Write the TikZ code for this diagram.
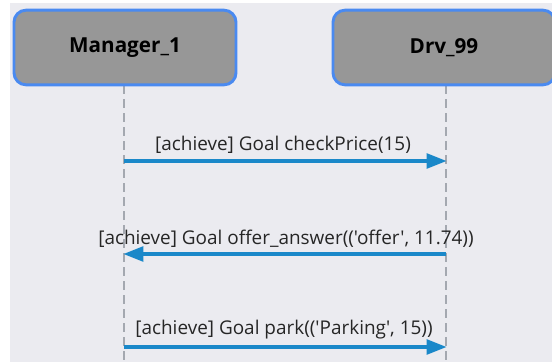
\documentclass[tikz,border=0pt]{standalone}
\usepackage{fontspec}
\setmainfont{Open Sans}[Ligatures=TeXOff]
\usetikzlibrary{arrows.meta}
\definecolor{bgc}{HTML}{EBEBF0}
\definecolor{boxfill}{HTML}{979797}
\definecolor{boxline}{HTML}{4A8AF0}
\definecolor{msgc}{HTML}{1A88C9}
\definecolor{lifec}{HTML}{A4A8B0}
\tikzset{
  px/.style={x=0.75pt,y=-0.75pt},
  actor/.style={draw=boxline, line width=2.2pt, fill=boxfill, rounded corners=9pt,
    minimum width=166.5pt, minimum height=56pt, font=\bfseries\fontsize{15.5}{18}\selectfont, inner sep=0pt},
  lifeline/.style={draw=lifec, line width=1.6pt, dash pattern=on 6.75pt off 3.75pt},
  msg/.style={draw=msgc, line width=2.6pt, -{Triangle[length=15pt,width=11pt]}, shorten >=-0.5pt},
  msglabel/.style={font=\fontsize{14.2}{16}\selectfont, text=black!85, inner sep=0pt}
}
\begin{document}
\begin{tikzpicture}[px]
\useasboundingbox (0,0) rectangle (552,362);
\fill[bgc] (10,3) rectangle (552,362);
\coordinate (mtop) at (124,85);
\coordinate (mbot) at (124,362);
\coordinate (dtop) at (446,85);
\coordinate (dbot) at (446,362);
\draw[lifeline] (mtop) -- (mbot);
\draw[lifeline] (dtop) -- (dbot);
\node[actor] (mgr) at (125,47.5) {Manager\_1};
\node[actor] (drv) at (444,47.5) {Drv\_99};
\coordinate (m1) at (124,161);
\coordinate (d1) at (446,161);
\coordinate (m2) at (124,254);
\coordinate (d2) at (446,254);
\coordinate (m3) at (124,347);
\coordinate (d3) at (446,347);
\draw[msg] (m1) -- (d1);
\draw[msg] (d2) -- (m2);
\draw[msg] (m3) -- (d3);
\node[msglabel] (l1) at (283,145) {[achieve] Goal checkPrice(15)};
\node[msglabel] (l2) at (286,239) {[achieve] Goal offer\_answer(('offer', 11.74))};
\node[msglabel] (l3) at (284,330) {[achieve] Goal park(('Parking', 15))};
\end{tikzpicture}
\end{document}
